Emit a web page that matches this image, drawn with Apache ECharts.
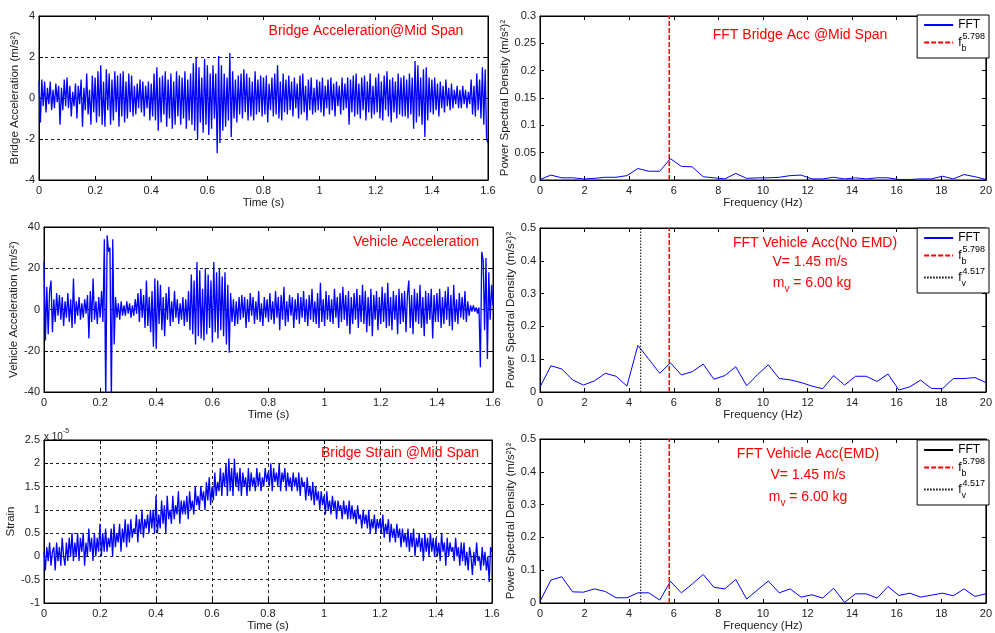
<!DOCTYPE html>
<html><head><meta charset="utf-8">
<script src="https://cdn.jsdelivr.net/npm/echarts@6/dist/echarts.min.js"></script>
<style>html,body{margin:0;padding:0;background:#fff}#c{width:995px;height:633px}</style>
</head><body><div id="c"></div>
<script>
// ---------- DATA ----------
const dt = 0.005; // sampling step (s)

const bridgeAcc = [
 0.8,-1.2,0.9,-0.4,0.8,-0.7,0.5,-0.3,0.8,-0.6,0.4,-0.5,0.7,-0.2,0.6,-1.3,0.5,-0.6,0.9,-0.4,
 1.0,-0.5,0.6,-0.9,0.3,-0.4,0.7,-1.0,0.6,-0.3,0.9,-1.4,0.5,-0.6,1.2,-0.8,0.4,-1.3,1.1,-0.7,
 1.0,-1.2,1.3,-0.9,1.6,-1.3,0.8,-1.4,1.4,-0.6,1.2,-1.3,0.9,-1.1,1.3,-0.7,1.1,-1.4,1.2,-0.9,
 1.3,-1.2,0.8,-1.0,1.2,-0.7,1.1,-0.9,0.6,-0.8,0.7,-0.5,0.9,-0.7,0.8,-0.9,0.6,-0.5,0.8,-1.1,
 0.7,-0.9,1.2,-1.1,1.5,-1.6,1.0,-1.2,1.1,-0.8,1.3,-1.4,0.9,-1.0,1.2,-1.5,0.8,-1.3,1.3,-0.9,
 1.1,-1.3,1.0,-1.0,1.3,-1.5,0.9,-1.1,1.2,-1.3,1.7,-1.6,2.0,-2.0,1.5,-1.2,1.0,-1.7,1.9,-1.3,
 1.6,-1.8,1.2,-1.5,1.6,-1.0,1.2,-2.7,2.05,-2.2,1.6,-1.6,1.2,-1.4,1.0,-1.1,2.2,-1.9,1.3,-1.0,
 0.9,-1.2,1.1,-0.8,1.2,-1.0,1.4,-0.7,1.2,-1.1,1.0,-0.9,0.8,-1.1,1.3,-0.8,0.9,-0.7,1.1,-0.9,
 1.0,-0.8,1.1,-1.2,0.7,-0.6,1.0,-0.9,1.2,-0.8,1.6,-1.0,0.8,-1.1,1.2,-0.7,0.9,-0.8,1.1,-0.6,
 0.8,-0.9,1.0,-0.5,0.7,-1.0,1.1,-0.8,1.2,-0.7,0.6,-1.1,0.9,-0.6,1.0,-0.8,0.5,-0.7,0.9,-0.6,
 0.8,-0.7,1.0,-0.9,0.6,-0.5,0.9,-0.8,1.0,-0.6,0.7,-0.9,0.8,-0.4,0.6,-0.8,1.0,-0.6,0.7,-0.5,
 1.0,-1.3,0.9,-0.7,1.1,-0.9,1.2,-0.8,0.7,-1.0,1.0,-0.6,1.1,-1.1,0.8,-0.7,1.2,-1.0,0.6,-0.8,
 1.0,-0.7,1.2,-1.0,0.8,-1.1,1.1,-0.6,1.3,-0.9,0.9,-1.2,1.0,-0.7,0.8,-1.0,1.2,-0.8,1.0,-0.9,
 1.1,-0.9,0.9,-1.0,1.2,-0.8,1.0,-1.5,1.8,-1.2,1.6,-0.9,1.0,-1.3,1.4,-1.9,1.5,-1.1,1.0,-0.7,
 0.9,-0.8,1.0,-0.6,0.7,-0.9,0.8,-0.5,0.6,-0.7,0.9,-0.4,0.5,-0.6,0.7,-0.5,0.4,-0.3,0.6,-0.5,
 0.4,-0.5,0.6,-0.3,0.4,-0.5,0.3,-0.3,0.9,-0.8,0.6,-0.9,1.2,-0.6,0.9,-1.0,1.5,-1.3,1.4,-2.0,
 -2.2
];

const vehicleAcc = [
 23,-15,11,-12,9,14,-11,5,-6,8,-3,7,-5,6,-8,4,-4,8,-6,5,
 -9,15,-7,4,-3,6,-5,3,-4,5,-2,7,-14,9,-6,15,-5,4,-7,6,
 -4,9,-6,34,-45,36,28,30,-45,34,-17,6,-4,3,-5,4,-3,2,-3,4,
 -2,3,-4,2,-3,5,-2,8,-6,10,-4,7,-9,14,-8,6,-11,9,-18,15,
 -19,14,-7,12,-10,6,-13,8,-5,11,-8,4,-6,9,-4,5,-7,3,-5,6,
 -8,5,-6,9,-10,17,-12,14,-17,23,-13,19,-14,10,-15,20,-12,17,-9,14,
 -16,23,-11,18,-14,20,-10,16,-13,18,-17,12,-21,8,-6,5,-8,4,-7,6,
 -5,7,-4,6,-9,5,-6,8,-3,6,-7,4,-5,9,-6,3,-8,6,-4,5,
 -6,8,-5,4,-7,9,-4,6,-10,7,-5,11,-8,4,-6,7,-3,6,-9,5,
 -5,8,-7,6,-4,9,-6,5,-8,7,-5,10,-6,4,-7,8,-9,13,-6,5,
 -8,9,-5,7,-6,5,-7,10,-4,6,-9,8,-6,11,-5,7,-8,9,-12,6,
 -7,8,-5,10,-9,7,-6,12,-7,9,-11,6,-8,10,-13,7,-5,9,-10,6,
 -7,11,-6,8,-9,13,-8,6,-10,9,-5,7,-12,10,-7,8,-6,9,-11,7,
 14,-9,7,-12,10,-6,8,-7,12,-9,6,-13,9,-7,8,-5,10,-14,7,-6,
 8,-6,10,-9,6,-7,9,-5,11,-8,7,-10,12,-6,5,-7,8,-4,6,-5,
 9,-6,4,-3,2,-1,2,-1,1,-2,1,-28,28,24,-10,25,-24,18,-5,12,
 2
];

// strain in units of 1e-5
const strain = [
 0.1,-0.3,0.2,-0.1,0.3,-0.2,0.1,0.2,-0.3,0.3,-0.1,0.2,-0.2,0.4,0.0,-0.2,0.3,-0.1,0.4,0.0,
 0.5,-0.1,0.3,0.0,0.5,-0.1,0.4,0.1,0.5,-0.2,0.3,0.0,0.6,0.1,0.4,-0.1,0.5,0.0,0.4,0.1,
 0.7,0.0,0.5,0.1,0.6,0.1,0.4,0.2,0.6,0.0,0.7,0.2,0.5,0.3,0.7,0.1,0.6,0.3,0.8,0.2,
 0.7,0.3,0.8,0.4,0.6,0.5,0.9,0.3,0.8,0.5,1.0,0.4,0.8,0.6,0.9,0.5,1.0,0.6,1.0,0.5,
 1.3,0.5,0.9,0.6,1.2,0.7,1.1,0.5,1.3,0.8,1.0,0.7,1.3,0.8,1.1,0.9,1.4,0.7,1.2,0.9,
 1.2,0.9,1.3,0.8,1.4,1.0,1.2,0.9,1.5,1.1,1.3,1.0,1.5,1.2,1.4,1.0,1.6,1.2,1.7,1.1,
 1.5,1.2,1.8,1.3,1.6,1.4,1.9,1.3,1.8,1.5,2.0,1.3,2.1,1.4,1.9,1.3,2.1,1.5,1.8,1.4,
 1.9,1.3,1.8,1.5,1.7,1.3,1.9,1.4,1.8,1.5,1.7,1.4,1.9,1.5,1.8,1.4,1.7,1.5,1.9,1.6,
 1.8,1.5,2.0,1.4,1.9,1.6,1.8,1.5,2.0,1.4,1.8,1.6,1.9,1.4,1.8,1.5,1.7,1.4,1.8,1.5,
 1.7,1.4,1.8,1.3,1.7,1.5,1.6,1.2,1.7,1.3,1.5,1.2,1.6,1.1,1.5,1.2,1.4,1.0,1.4,1.1,
 1.3,0.9,1.4,1.0,1.2,0.9,1.3,1.0,1.2,0.8,1.2,1.0,1.1,0.8,1.2,0.9,1.1,0.8,1.2,0.8,
 1.1,0.8,1.0,0.7,1.1,0.8,0.9,0.6,1.0,0.7,0.9,0.6,1.0,0.5,0.8,0.6,0.9,0.5,0.8,0.6,
 0.8,0.5,0.9,0.4,0.7,0.5,0.8,0.3,0.7,0.4,0.6,0.3,0.7,0.4,0.6,0.2,0.6,0.3,0.5,0.2,
 0.6,0.1,0.5,0.2,0.6,0.0,0.4,0.2,0.5,0.1,0.4,-0.1,0.5,0.1,0.4,0.0,0.5,0.1,0.4,0.0,
 0.4,0.0,0.3,-0.1,0.5,0.1,0.3,-0.2,0.4,0.0,0.3,0.1,0.2,-0.1,0.4,0.0,0.2,-0.2,0.3,-0.1,
 0.3,-0.2,0.1,-0.3,0.2,0.0,-0.4,0.1,-0.2,0.3,-0.1,0.0,-0.3,0.2,-0.2,0.1,-0.3,0.0,-0.55,0.2,
 0.1
];

const freq = [0,0.49,0.98,1.46,1.95,2.44,2.93,3.41,3.90,4.39,4.88,5.37,5.85,6.34,6.83,7.32,7.80,8.29,8.78,9.27,9.76,
 10.24,10.73,11.22,11.71,12.20,12.68,13.17,13.66,14.15,14.63,15.12,15.61,16.10,16.59,17.07,17.56,18.05,18.54,19.02,19.51,20.0];

const psdBridge = [0.001,0.009,0.004,0.004,0.002,0.003,0.005,0.005,0.008,0.021,0.016,0.016,0.039,0.025,0.024,0.006,0.004,0.002,0.012,0.003,0.004,
 0.004,0.005,0.008,0.009,0.002,0.002,0.005,0.002,0.004,0.002,0.004,0.004,0.001,0.001,0.002,0.002,0.007,0.002,0.010,0.006,0.001];

const psdVehNoEMD = [0.015,0.080,0.070,0.037,0.021,0.034,0.057,0.048,0.018,0.142,0.100,0.057,0.089,0.052,0.062,0.085,0.039,0.050,0.077,0.019,0.053,
 0.083,0.041,0.037,0.029,0.018,0.010,0.050,0.021,0.048,0.048,0.032,0.055,0.006,0.016,0.036,0.011,0.010,0.041,0.041,0.044,0.029];

const psdVehEMD = [0.005,0.070,0.080,0.034,0.033,0.043,0.035,0.016,0.016,0.031,0.031,0.009,0.066,0.031,0.058,0.087,0.048,0.043,0.072,0.012,0.040,
 0.067,0.031,0.043,0.018,0.025,0.015,0.045,0.002,0.028,0.028,0.015,0.050,0.023,0.030,0.018,0.024,0.030,0.022,0.043,0.020,0.028];

const fb = 5.798;   // bridge frequency
const fv = 4.517;   // vehicle frequency
const fbLabel = '5.798';
const fvLabel = '4.517';

// ---------- CHART ----------
const FONT = "'Liberation Sans', Arial, sans-serif";
const RED = '#ff0000', BLUE = '#0000ff';

const grids = [
 {left:39, top:16, width:449, height:164},
 {left:540, top:16, width:448, height:164},
 {left:44, top:227, width:449, height:165},
 {left:540, top:228, width:448, height:164},
 {left:44, top:440, width:448, height:163},
 {left:540, top:439, width:448, height:164}
];

const axisCfg = [
 {x:{min:0,max:1.6,interval:0.2,name:'Time (s)',gap:12}, y:{min:-4,max:4,interval:2,name:'Bridge Acceleration (m/s²)',gap:12}, xs:false, ys:true},
 {x:{min:0,max:20,interval:2,name:'Frequency (Hz)',gap:12}, y:{min:0,max:0.3,interval:0.05,name:'Power Spectral Density (m/s²)²',gap:22}, xs:false, ys:false},
 {x:{min:0,max:1.6,interval:0.2,name:'Time (s)',gap:12}, y:{min:-40,max:40,interval:20,name:'Vehicle Acceleration (m/s²)',gap:14}, xs:false, ys:true},
 {x:{min:0,max:20,interval:2,name:'Frequency (Hz)',gap:13}, y:{min:0,max:0.5,interval:0.1,name:'Power Spectral Density (m/s²)²',gap:17}, xs:false, ys:false},
 {x:{min:0,max:1.6,interval:0.2,name:'Time (s)',gap:14}, y:{min:-1,max:2.5,interval:0.5,name:'Strain',gap:20}, xs:true, ys:true},
 {x:{min:0,max:20,interval:2,name:'Frequency (Hz)',gap:14}, y:{min:0,max:0.5,interval:0.1,name:'Power Spectral Density (m/s²)²',gap:17}, xs:false, ys:false}
];

const xAxes = [], yAxes = [];
const gridSplit = {show:true, lineStyle:{color:'#222', type:[3,3], width:1}};
axisCfg.forEach((c, i) => {
  const common = {type:'value', gridIndex:i, axisLine:{show:true, onZero:false, lineStyle:{color:'#000', width:1}},
    axisTick:{show:true, inside:true, length:4, lineStyle:{color:'#000'}}};
  xAxes.push(Object.assign({}, common, {min:c.x.min, max:c.x.max, interval:c.x.interval, position:'bottom',
    name:c.x.name, nameLocation:'middle', nameGap:c.x.gap, nameTextStyle:{fontFamily:FONT, fontSize:11.5, color:'#222'},
    axisLabel:{fontFamily:FONT, fontSize:11, color:'#222', margin:5},
    splitLine: c.xs ? gridSplit : {show:false}}));
  xAxes.push(Object.assign({}, common, {min:c.x.min, max:c.x.max, interval:c.x.interval, position:'top',
    axisLabel:{show:false}, splitLine:{show:false}}));
  yAxes.push(Object.assign({}, common, {min:c.y.min, max:c.y.max, interval:c.y.interval, position:'left',
    name:c.y.name, nameLocation:'middle', nameGap:c.y.gap, nameRotate:90,
    nameTextStyle:{fontFamily:FONT, fontSize:11.5, color:'#222'},
    axisLabel:{fontFamily:FONT, fontSize:11, color:'#222', margin:4,
      formatter: v => String(+v.toFixed(3))},
    splitLine: c.ys ? gridSplit : {show:false}}));
  yAxes.push(Object.assign({}, common, {min:c.y.min, max:c.y.max, interval:c.y.interval, position:'right',
    axisLabel:{show:false}, splitLine:{show:false}}));
});

function timeSeries(vals){ return vals.map((v, k) => [+(k*dt).toFixed(3), v]); }
function freqSeries(vals){ return vals.map((v, k) => [freq[k], v]); }

function ts(i, vals){
  return {type:'line', xAxisIndex:2*i, yAxisIndex:2*i, data:timeSeries(vals), symbol:'none', silent:true,
    lineStyle:{color:BLUE, width:1.3}, animation:false, clip:true};
}
function fftS(i, vals){
  return {type:'line', name:'FFT', xAxisIndex:2*i, yAxisIndex:2*i, data:freqSeries(vals), symbol:'none', silent:true,
    itemStyle:{color:BLUE}, lineStyle:{color:BLUE, width:1}, animation:false, z:3};
}
function vline(i, name, f, color, type, width){
  const c = axisCfg[i].y;
  return {type:'line', name:name, xAxisIndex:2*i, yAxisIndex:2*i, data:[[f, c.min],[f, c.max]], symbol:'none', silent:true,
    itemStyle:{color:color}, lineStyle:{color:color, type:type, width:width}, animation:false, z:4};
}

const series = [
  ts(0, bridgeAcc),
  fftS(1, psdBridge), vline(1, 'fb', fb, RED, [5,2], 1.5),
  ts(2, vehicleAcc),
  fftS(3, psdVehNoEMD), vline(3, 'fb', fb, RED, [5,2], 1.5), vline(3, 'fv', fv, '#000', [1.5,1.5], 1),
  ts(4, strain),
  fftS(5, psdVehEMD), vline(5, 'fb', fb, RED, [5,2], 1.5), vline(5, 'fv', fv, '#000', [1.5,1.5], 1)
];

const legendRich = {
  t:{fontFamily:FONT, fontSize:12, color:'#000', lineHeight:21},
  sub:{fontFamily:FONT, fontSize:9, color:'#000', lineHeight:9, verticalAlign:'bottom', width:1},
  sup:{fontFamily:FONT, fontSize:9, color:'#000', lineHeight:9, verticalAlign:'top'}
};
function legendFmt(name){
  if (name === 'fb') return '{t|f}{sub|b}{sup|' + fbLabel + '}';
  if (name === 'fv') return '{t|f}{sub|v}{sup|' + fvLabel + '}';
  return '{t|' + name + '}';
}
function mkLegend(top, items){
  return {top:top, right:6, orient:'vertical', selectedMode:false, borderColor:'#000', borderWidth:1, backgroundColor:'#fff',
    padding:[4,4,5,6], itemWidth:29, itemHeight:10, itemGap:1, borderRadius:0,
    itemStyle:{opacity:0},
    data:items, formatter:legendFmt, textStyle:{rich:legendRich, fontFamily:FONT}};
}
const legends = [
  mkLegend(15, ['FFT','fb']),
  mkLegend(228, ['FFT','fb','fv']),
  mkLegend(440, [{name:'FFT', itemStyle:{color:'#000', opacity:0}, lineStyle:{color:'#000'}}, 'fb', 'fv'])
];

function redText(x, y, txt){
  return {type:'text', x:x, y:y, silent:true, style:{text:txt, x:0, y:0, align:'center', verticalAlign:'middle',
    fill:RED, font:'14px ' + FONT}};
}
function redMv(x, y){
  return {type:'text', x:x, y:y, silent:true, style:{text:'{a|m}{b|v}{a| = 6.00 kg}', align:'center', verticalAlign:'middle',
    fill:RED, font:'14px ' + FONT,
    rich:{a:{fill:RED, color:RED, fontSize:14, fontFamily:FONT, lineHeight:22, verticalAlign:'middle'},
          b:{fill:RED, color:RED, fontSize:10, fontFamily:FONT, lineHeight:9, verticalAlign:'bottom'}}}};
}

const graphics = [
  redText(366, 31, 'Bridge Acceleration@Mid Span'),
  redText(800, 35, 'FFT Bridge Acc @Mid Span'),
  redText(416, 242, 'Vehicle Acceleration'),
  redText(815, 243, 'FFT Vehicle Acc(No EMD)'),
  redText(810, 262, 'V= 1.45 m/s'),
  redMv(812, 283),
  redText(400, 453, 'Bridge Strain @Mid Span'),
  redText(808, 454, 'FFT Vehicle Acc(EMD)'),
  redText(808, 475, 'V= 1.45 m/s'),
  redMv(808, 497),
  {type:'text', x:44, y:428, silent:true, style:{text:'{a|x 10}{b|-5}', fill:'#222', font:'10px ' + FONT,
    rich:{a:{fill:'#222', color:'#222', fontSize:10, fontFamily:FONT, lineHeight:14, verticalAlign:'bottom'},
          b:{fill:'#222', color:'#222', fontSize:7, fontFamily:FONT, lineHeight:7, verticalAlign:'top'}}}}
];

const chart = echarts.init(document.getElementById('c'), null, {renderer:'canvas'});
chart.setOption({
  backgroundColor:'#fff',
  animation:false,
  grid: grids.map(g => Object.assign({show:true, borderColor:'#000', borderWidth:1, backgroundColor:'#fff', containLabel:false}, g)),
  xAxis: xAxes,
  yAxis: yAxes,
  legend: legends,
  series: series,
  graphic: graphics
});
</script></body></html>
